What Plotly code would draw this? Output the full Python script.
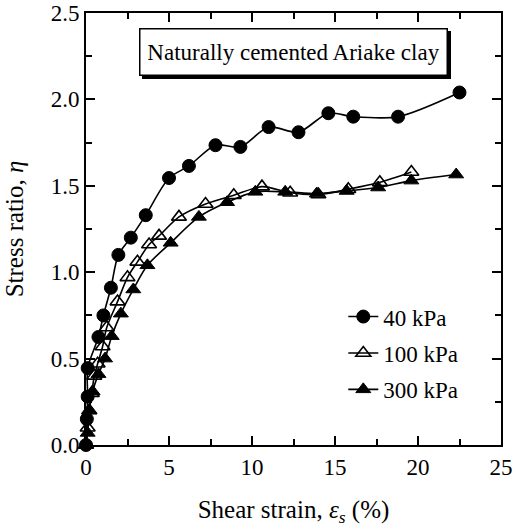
import plotly.graph_objects as go

# 40 kPa
x40 = [0.0, 0.05, 0.1, 0.1, 0.75, 1.05, 1.5, 1.95, 2.7, 3.6, 5.0, 6.2, 7.8, 9.3, 11.0, 12.8, 14.6, 16.1, 18.8, 22.5]
y40 = [0.0, 0.15, 0.28, 0.445, 0.625, 0.75, 0.91, 1.10, 1.20, 1.33, 1.545, 1.615, 1.735, 1.725, 1.84, 1.81, 1.92, 1.90, 1.90, 2.04]
# 100 kPa
x100 = [0.0, 0.1, 0.2, 0.35, 0.5, 0.7, 1.0, 1.25, 1.9, 2.5, 3.1, 3.8, 4.4, 5.6, 7.2, 8.9, 10.6, 12.3, 14.0, 15.8, 17.7, 19.6]
y100 = [0.0, 0.1, 0.2, 0.3, 0.4, 0.47, 0.57, 0.68, 0.83, 0.97, 1.06, 1.16, 1.21, 1.32, 1.395, 1.445, 1.495, 1.46, 1.45, 1.48, 1.52, 1.58]
# 300 kPa
x300 = [0.0, 0.1, 0.2, 0.4, 0.75, 1.15, 1.55, 2.1, 2.85, 3.7, 5.1, 6.8, 8.5, 10.2, 12.0, 13.9, 15.7, 17.6, 19.6, 22.3]
y300 = [0.0, 0.07, 0.2, 0.31, 0.41, 0.50, 0.63, 0.76, 0.90, 1.04, 1.17, 1.32, 1.405, 1.465, 1.465, 1.455, 1.47, 1.49, 1.53, 1.565]

names = ["40 kPa", "100 kPa", "300 kPa"]
FONT = "Liberation Serif, Times New Roman, serif"

fig = go.Figure()
series = [
    (x40, y40, names[0], dict(symbol="circle", size=13, color="black", line=dict(color="black", width=1))),
    (x100, y100, names[1], dict(symbol="triangle-up-open", size=13, color="black", line=dict(color="black", width=1.6))),
    (x300, y300, names[2], dict(symbol="triangle-up", size=13, color="black", line=dict(color="black", width=1))),
]
for i, (xs, ys, nm, mk) in enumerate(series):
    fig.add_trace(go.Scatter(
        x=xs, y=ys, name=nm, mode="lines+markers",
        line=dict(color="black", width=1.6, shape="spline", smoothing=0.8),
        marker=mk, cliponaxis=False, legendgroup="g%d" % i,
    ))

axis_common = dict(
    showline=True, linecolor="black", linewidth=2, mirror="ticks",
    ticks="inside", ticklen=9, tickwidth=1.6, tickcolor="black",
    showgrid=False, zeroline=False, automargin=False,
    tickfont=dict(family=FONT, size=23, color="black"),
)
fig.update_xaxes(range=[0, 25], dtick=5, tick0=0,
                 minor=dict(dtick=2.5, ticks="inside", ticklen=6, tickwidth=1.6, tickcolor="black"),
                 title=dict(text="Shear strain, <i>ε<sub>s</sub></i> (%)", font=dict(family=FONT, size=25, color="black"), standoff=22),
                 **axis_common)
fig.update_yaxes(range=[0, 2.5], dtick=0.5, tick0=0, tickformat=".1f",
                 minor=dict(dtick=0.25, ticks="inside", ticklen=6, tickwidth=1.6, tickcolor="black"),
                 title=dict(text="Stress ratio, <i>η</i>", font=dict(family=FONT, size=25, color="black"), standoff=20),
                 **axis_common)

# shadow (blank box) + title box
box = dict(xref="paper", yref="paper", x=0.5, y=0.9086, xanchor="center", yanchor="middle",
           showarrow=False, borderwidth=1.5, borderpad=7, width=292, height=31)
fig.add_annotation(text="\u00a0", font=dict(family=FONT, size=23, color="black"),
                   bgcolor="black", bordercolor="black", xshift=3, yshift=-3, **box)
fig.add_annotation(text="Naturally cemented Ariake clay", font=dict(family=FONT, size=23, color="black"),
                   bgcolor="white", bordercolor="black", **box)

fig.update_layout(
    width=514, height=531,
    margin=dict(l=86, r=13, t=13, b=86, autoexpand=False),
    paper_bgcolor="white", plot_bgcolor="white",
    showlegend=True,
    legend=dict(x=0.62, y=0.347, xanchor="left", yanchor="top", bgcolor="rgba(0,0,0,0)",
                font=dict(family=FONT, size=23, color="black"), tracegroupgap=3.5,
                itemsizing="trace"),
)

fig.write_html("out.html")
